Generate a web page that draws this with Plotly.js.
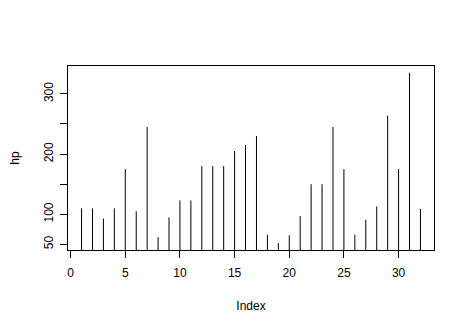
<!DOCTYPE html>
<html><head><meta charset="utf-8">
<script src="https://cdn.plot.ly/plotly-3.0.1.min.js"></script>
<style>html,body{margin:0;padding:0;background:#fff}</style>
</head><body>
<div id="chart" style="width:471px;height:332px"></div>
<script>
var index = [1,2,3,4,5,6,7,8,9,10,11,12,13,14,15,16,17,18,19,20,21,22,23,24,25,26,27,28,29,30,31,32];
var hp = [110,110,93,110,175,105,245,62,95,123,123,180,180,180,205,215,230,66,52,65,97,150,150,245,175,66,91,113,264,175,335,109];
var yTickVals = [50,100,150,200,250,300];
var yTickText = ["50","100","","200","","300"];
var xTickVals = [0,5,10,15,20,25,30];

var xs = [], ys = [];
for (var i = 0; i < index.length; i++) {
  xs.push(index[i], index[i], null);
  ys.push(0, hp[i], null);
}
var trace = {x: xs, y: ys, type: 'scatter', mode: 'lines',
  line: {color: '#000', width: 1}, hoverinfo: 'skip', showlegend: false};

var n = index.length;
var xr = [1 - 0.04*(n-1), n + 0.04*(n-1)];
var ymin = Math.min.apply(null, hp), ymax = Math.max.apply(null, hp);
var yr = [ymin - 0.04*(ymax-ymin), ymax + 0.04*(ymax-ymin)];

var font = {family: 'Liberation Sans, Arial, sans-serif', size: 12, color: '#000'};
var layout = {
  width: 471, height: 332,
  margin: {l: 68, r: 37, t: 66, b: 82},
  paper_bgcolor: '#fff', plot_bgcolor: '#fff',
  font: font, showlegend: false,
  xaxis: {range: xr, tickvals: xTickVals, ticks: 'outside', ticklen: 7, tickwidth: 1, tickcolor: '#000',
    ticklabelstandoff: 5,
    showgrid: false, zeroline: false, showline: true, mirror: true, linecolor: '#000', linewidth: 1,
    title: {text: 'Index', font: font, standoff: 22}, automargin: false},
  yaxis: {range: yr, tickvals: yTickVals, ticktext: yTickText, ticks: 'outside', ticklen: 7, tickwidth: 1, tickcolor: '#000',
    tickangle: -90, ticklabelstandoff: 2,
    showgrid: false, zeroline: false, showline: true, mirror: true, linecolor: '#000', linewidth: 1,
    title: {text: 'hp', font: font, standoff: 20}, automargin: false}
};
Plotly.newPlot('chart', [trace], layout, {displayModeBar: false, staticPlot: true});
</script>
</body></html>
